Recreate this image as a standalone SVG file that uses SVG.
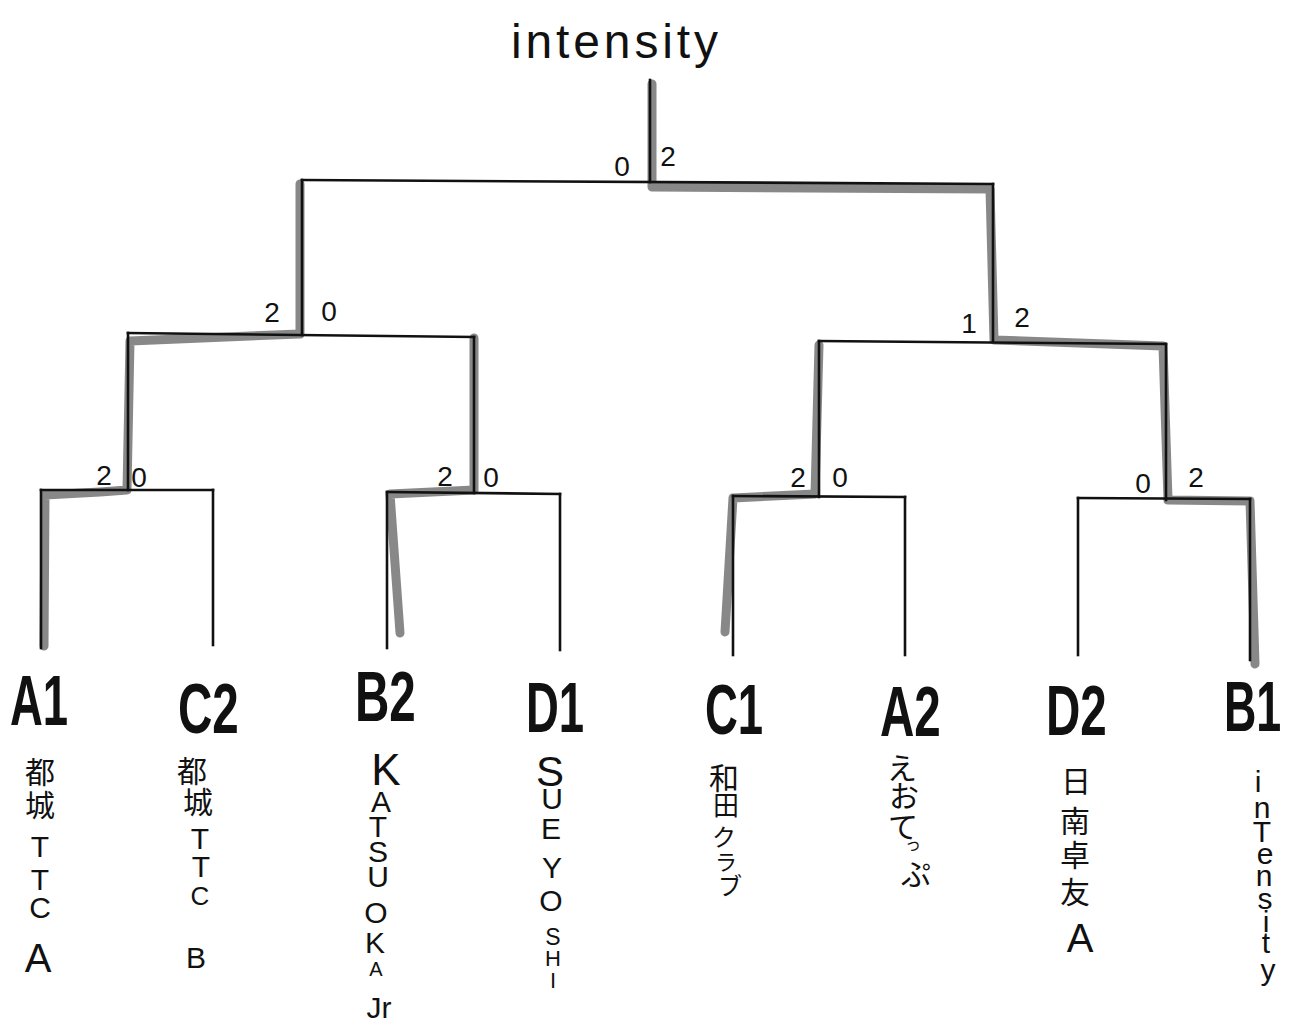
<svg xmlns="http://www.w3.org/2000/svg" width="1293" height="1025" viewBox="0 0 1293 1025">
<style>
.ln{fill:none;stroke:#111;stroke-width:2.6;stroke-linecap:square}
.hl{fill:none;stroke:#6a6a6a;stroke-width:9;stroke-linejoin:round;stroke-linecap:round;opacity:0.8}
.sc{font-family:"Liberation Sans",sans-serif;font-size:28px;fill:#111;text-anchor:middle}
.tm{font-family:"Liberation Sans",sans-serif;font-weight:bold;font-size:70px;fill:#111}
.nm{font-family:"Liberation Sans","Noto Sans CJK JP",sans-serif;font-size:30px;fill:#111;text-anchor:middle}
.ttl{font-family:"Liberation Sans",sans-serif;font-size:48px;fill:#111}
</style>
<rect width="1293" height="1025" fill="#fff"/>
<g id="title"><text class="ttl" x="511" y="58" textLength="207" lengthAdjust="spacing">intensity</text></g>
<g id="connectors">
<g id="highlight">
<path class="hl" d="M652,84 L652,187 L990,189 L994,340 L1163,346 L1168,500 L1250,501 L1255,664"/>
<path class="hl" d="M819,345 L815,494 L733,498 L725,632"/>
<path class="hl" d="M300,184 L300,334 L250,336 L130,341 L127,490 L100,492 L45,495 L44,646"/>
<path class="hl" d="M474,338 L474,490 L390,494 L400,633"/>
</g>
<g id="lines">
<path class="ln" d="M650,80 V182"/>
<path class="ln" d="M302,180 L993,184"/>
<path class="ln" d="M302,180 V335"/>
<path class="ln" d="M993,184 V341"/>
<path class="ln" d="M128,333 L474,337"/>
<path class="ln" d="M128,333 V490"/>
<path class="ln" d="M474,337 V493"/>
<path class="ln" d="M819,341 L1166,344"/>
<path class="ln" d="M819,341 V497"/>
<path class="ln" d="M1166,344 V500"/>
<path class="ln" d="M41,490 L213,490"/>
<path class="ln" d="M41,490 V648"/>
<path class="ln" d="M213,490 V645"/>
<path class="ln" d="M387,492 L560,494"/>
<path class="ln" d="M387,492 V648"/>
<path class="ln" d="M560,494 V650"/>
<path class="ln" d="M733,496 L905,497"/>
<path class="ln" d="M733,496 V655"/>
<path class="ln" d="M905,497 V655"/>
<path class="ln" d="M1078,498 L1250,499"/>
<path class="ln" d="M1078,498 V655"/>
<path class="ln" d="M1250,499 V660"/>
</g>
<g id="scores">
<text class="sc" x="622" y="176">0</text>
<text class="sc" x="668" y="166">2</text>
<text class="sc" x="272" y="322">2</text>
<text class="sc" x="329" y="321">0</text>
<text class="sc" x="969" y="333">1</text>
<text class="sc" x="1022" y="327">2</text>
<text class="sc" x="104" y="485">2</text>
<text class="sc" x="139" y="487">0</text>
<text class="sc" x="445" y="486">2</text>
<text class="sc" x="491" y="487">0</text>
<text class="sc" x="798" y="487">2</text>
<text class="sc" x="840" y="487">0</text>
<text class="sc" x="1143" y="493">0</text>
<text class="sc" x="1196" y="487">2</text>
</g>
</g>
<g id="A1">
<text class="tm" transform="translate(10,725) scale(0.65,1)">A1</text>
<text class="nm"><tspan x="40" y="783">都</tspan><tspan x="40" y="816">城</tspan><tspan x="40" y="857">T</tspan><tspan x="40" y="890">T</tspan><tspan x="40" y="918">C</tspan><tspan x="38" y="972" font-size="40">A</tspan></text>
</g>
<g id="C2">
<text class="tm" transform="translate(178,733) scale(0.68,1)">C2</text>
<text class="nm"><tspan x="192" y="782">都</tspan><tspan x="198" y="813">城</tspan><tspan x="200" y="849">T</tspan><tspan x="201" y="877">T</tspan><tspan x="200" y="905" font-size="26">C</tspan><tspan x="196" y="968">B</tspan></text>
</g>
<g id="B2">
<text class="tm" transform="translate(355,721) scale(0.68,1)">B2</text>
<text class="nm" font-size="25"><tspan x="386" y="785" font-size="44">K</tspan><tspan x="381" y="812">A</tspan><tspan x="378" y="837">T</tspan><tspan x="378" y="862">S</tspan><tspan x="378" y="887">U</tspan><tspan x="376" y="923" font-size="30">O</tspan><tspan x="375" y="953">K</tspan><tspan x="376" y="976" font-size="20">A</tspan><tspan x="379" y="1018" font-size="30">Jr</tspan></text>
</g>
<g id="D1">
<text class="tm" transform="translate(526,732) scale(0.65,1)">D1</text>
<text class="nm" font-size="26"><tspan x="550" y="786" font-size="42">S</tspan><tspan x="552" y="809">U</tspan><tspan x="551" y="839">E</tspan><tspan x="552" y="878" font-size="30">Y</tspan><tspan x="551" y="911" font-size="30">O</tspan><tspan x="553" y="945" font-size="23">S</tspan><tspan x="553" y="966" font-size="22">H</tspan><tspan x="553" y="988" font-size="22">I</tspan></text>
</g>
<g id="C1">
<text class="tm" transform="translate(705,734) scale(0.65,1)">C1</text>
<text class="nm"><tspan x="724" y="789">和</tspan><tspan x="726" y="815" font-size="26">田</tspan><tspan x="724" y="846" font-size="24">ク</tspan><tspan x="726" y="870" font-size="22">ラ</tspan><tspan x="730" y="895" font-size="24">ブ</tspan></text>
</g>
<g id="A2">
<text class="tm" transform="translate(880,736) scale(0.68,1)">A2</text>
<text class="nm"><tspan x="902" y="779">え</tspan><tspan x="904" y="807">お</tspan><tspan x="903" y="838">て</tspan><tspan x="913" y="850" font-size="16">っ</tspan><tspan x="916" y="885">ぷ</tspan></text>
</g>
<g id="D2">
<text class="tm" transform="translate(1046,735) scale(0.68,1)">D2</text>
<text class="nm"><tspan x="1076" y="792">日</tspan><tspan x="1075" y="832">南</tspan><tspan x="1075" y="866">卓</tspan><tspan x="1075" y="903">友</tspan><tspan x="1080" y="952" font-size="40">A</tspan></text>
</g>
<g id="B1">
<text class="tm" transform="translate(1224,731) scale(0.64,1)">B1</text>
<text class="nm" font-size="26"><tspan x="1258" y="792">i</tspan><tspan x="1262" y="818">n</tspan><tspan x="1262" y="842">T</tspan><tspan x="1265" y="864">e</tspan><tspan x="1264" y="886">n</tspan><tspan x="1265" y="909">s</tspan><tspan x="1266" y="932">i</tspan><tspan x="1266" y="953">t</tspan><tspan x="1268" y="980">y</tspan></text>
</g>
</svg>
